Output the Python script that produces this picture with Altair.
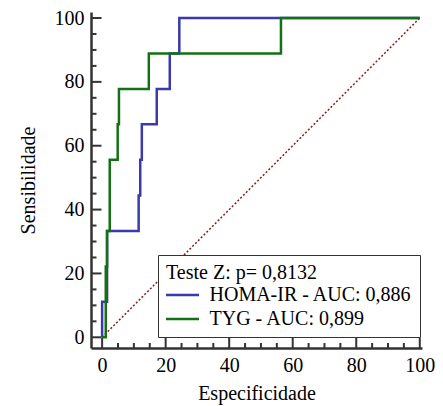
import altair as alt
import pandas as pd

# ROC curve vertices (1 - specificity, sensitivity)
homa_x = [0, 0, 1.56, 1.56, 11.5, 11.5, 12.0, 12.0, 12.5, 12.5, 17.2, 17.2, 21.3, 21.3, 24.3, 24.3, 100]
homa_y = [0, 11.1, 11.1, 33.3, 33.3, 44.4, 44.4, 55.6, 55.6, 66.7, 66.7, 77.8, 77.8, 88.9, 88.9, 100, 100]
tyg_x = [0, 1.15, 1.15, 1.56, 1.56, 2.4, 2.4, 4.9, 4.9, 5.3, 5.3, 14.7, 14.7, 56.3, 56.3, 100]
tyg_y = [0, 0, 22.2, 22.2, 33.3, 33.3, 55.6, 55.6, 66.7, 66.7, 77.8, 77.8, 88.9, 88.9, 100, 100]
series_names = ["HOMA-IR - AUC: 0,886", "TYG - AUC: 0,899"]
series_colors = ["#3a3aad", "#157015"]
legend_title = "Teste Z: p= 0,8132"

diag_x = [0, 100]
diag_y = [0, 100]

major_ticks = [0, 20, 40, 60, 80, 100]
minor_ticks = [5, 10, 15, 25, 30, 35, 45, 50, 55, 65, 70, 75, 85, 90, 95]

FONT = "Liberation Serif"
AX = "#333333"
W, H = 331, 336

rows = []
for i, (x, y) in enumerate(zip(homa_x, homa_y)):
    rows.append({"x": x, "y": y, "s": series_names[0], "i": i})
for i, (x, y) in enumerate(zip(tyg_x, tyg_y)):
    rows.append({"x": x, "y": y, "s": series_names[1], "i": i})
curves = pd.DataFrame(rows)
diag = pd.DataFrame({"x": diag_x, "y": diag_y})
majors = pd.DataFrame({"v": major_ticks})
minors = pd.DataFrame({"v": minor_ticks})

xs = alt.Scale(domain=[-3.5, 100.7], nice=False, zero=False)
ys = alt.Scale(domain=[-3.35, 101.88], nice=False, zero=False)

xaxis = alt.Axis(values=major_ticks, ticks=False, tickSize=0, labelPadding=7, titlePadding=8,
                 domainColor=AX, domainWidth=2.5, grid=False, labelFlush=False,
                 title="Especificidade")
yaxis = alt.Axis(values=major_ticks, ticks=False, tickSize=0, labelPadding=7, titlePadding=16,
                 domainColor=AX, domainWidth=2.5, grid=False, labelFlush=False,
                 title="Sensibilidade")

diag_layer = alt.Chart(diag).mark_line(color="#8b1a1a", strokeWidth=1.5, strokeDash=[2, 2]).encode(
    x=alt.X("x:Q", scale=xs, axis=xaxis),
    y=alt.Y("y:Q", scale=ys, axis=yaxis),
)

curve_layer = alt.Chart(curves).mark_line(strokeWidth=2.5).encode(
    x=alt.X("x:Q", scale=xs, axis=xaxis),
    y=alt.Y("y:Q", scale=ys, axis=yaxis),
    order=alt.Order("i:Q"),
    color=alt.Color(
        "s:N",
        scale=alt.Scale(domain=series_names, range=series_colors),
        legend=alt.Legend(
            title=legend_title,
            orient="none", legendX=67, legendY=243,
            symbolType="M-2.75,0H2.75", symbolSize=144, symbolStrokeWidth=2.5,
            symbolOffset=6.5, labelOffset=17,
            padding=8, titlePadding=2, rowPadding=4,
            strokeColor=AX, fillColor="white", cornerRadius=0,
            labelFont=FONT, labelFontSize=20, labelColor="black", labelLimit=400,
            titleFont=FONT, titleFontSize=20, titleFontWeight="normal", titleColor="black",
            titleLimit=400,
        ),
    ),
)

ytick_major = alt.Chart(majors).mark_rule(color=AX, strokeWidth=2).encode(
    y=alt.Y("v:Q", scale=ys, axis=yaxis), x=alt.value(0), x2=alt.value(10.5))
ytick_minor = alt.Chart(minors).mark_rule(color=AX, strokeWidth=2).encode(
    y=alt.Y("v:Q", scale=ys, axis=yaxis), x=alt.value(0), x2=alt.value(5.5))
xtick_major = alt.Chart(majors).mark_rule(color=AX, strokeWidth=2).encode(
    x=alt.X("v:Q", scale=xs, axis=xaxis), y=alt.value(H), y2=alt.value(H - 10))
xtick_minor = alt.Chart(minors).mark_rule(color=AX, strokeWidth=2).encode(
    x=alt.X("v:Q", scale=xs, axis=xaxis), y=alt.value(H), y2=alt.value(H - 5))

chart = alt.layer(
    diag_layer, curve_layer, ytick_major, ytick_minor, xtick_major, xtick_minor
).properties(
    width=W, height=H,
    autosize=alt.AutoSizeParams(type="none"),
    padding={"left": 83, "top": 4, "right": 13, "bottom": 58},
).configure_view(stroke=None).configure_axis(
    labelFont=FONT, labelFontSize=20, labelColor="black",
    titleFont=FONT, titleFontSize=20, titleFontWeight="normal", titleColor="black",
)

chart.save("out.html", embed_options={"renderer": "svg", "actions": False})
